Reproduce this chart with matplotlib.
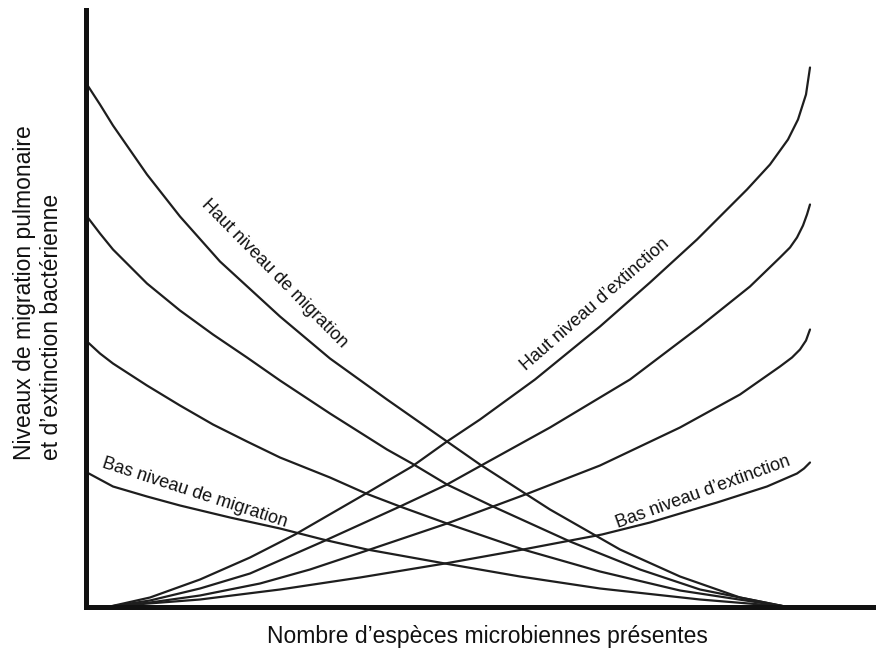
import matplotlib
matplotlib.use("Agg")
import matplotlib.pyplot as plt

plt.rcParams['font.family'] = ['Liberation Sans', 'DejaVu Sans']

# migration curves (descending), x = species count, y = rate
mig_high_x = [0, 13, 26, 60, 93, 133, 193, 243, 300, 360, 393, 463, 533, 593, 653, 698]
mig_high_y = [522, 502, 481, 432, 390, 345, 290, 248, 207, 165, 142, 97, 57, 30, 9, 0]
mig_2_x = [0, 13, 26, 60, 93, 126, 160, 193, 243, 300, 325, 360, 406, 483, 553, 613, 698]
mig_2_y = [390, 373, 357, 323, 296, 272, 249, 226, 193, 157, 143, 122, 100, 65, 37, 17, 0]
mig_3_x = [0, 13, 26, 60, 93, 126, 160, 193, 243, 279, 313, 360, 436, 513, 593, 698]
mig_3_y = [265, 253, 243, 221, 201, 182, 165, 149, 129, 113, 100, 83, 57, 35, 16, 0]
mig_low_x = [0, 13, 26, 60, 93, 143, 193, 236, 280, 358, 433, 513, 613, 698]
mig_low_y = [134, 127, 120, 110, 101, 89, 78, 67, 57, 43, 30, 18, 7, 0]

# extinction curves (ascending)
ext_high_x = [23, 63, 113, 163, 208, 279, 325, 360, 393, 448, 513, 563, 610, 660,
              683, 701, 711, 719, 723]
ext_high_y = [0, 9, 27, 49, 72, 113, 140, 165, 187, 227, 280, 324, 367, 417,
              442, 467, 487, 512, 539]
ext_2_x = [23, 63, 113, 163, 236, 313, 360, 396, 463, 543, 613, 663, 693, 703, 710, 716, 720, 723]
ext_2_y = [0, 6, 18, 33, 65, 100, 122, 142, 179, 227, 280, 320, 349, 359, 369, 381, 392, 402]
ext_3_x = [23, 63, 113, 173, 223, 280, 360, 406, 441, 513, 593, 653, 693, 705, 713, 719, 723]
ext_3_y = [0, 4, 11, 23, 37, 56, 83, 100, 113, 141, 179, 212, 240, 249, 257, 266, 277]
ext_low_x = [23, 113, 193, 273, 358, 436, 515, 563, 630, 680, 710, 717, 723]
ext_low_y = [0, 7, 17, 29, 43, 57, 72, 84, 104, 120, 133, 138, 144]

fig = plt.figure(figsize=(8.76, 6.5), dpi=100)
ax = fig.add_axes([85.5 / 876, 43.5 / 650, 790.5 / 876, 596.5 / 650])

line_kw = dict(color='#1e1e1e', lw=1.6, solid_capstyle='round', solid_joinstyle='round')
for xs, ys in [(mig_high_x, mig_high_y), (mig_2_x, mig_2_y), (mig_3_x, mig_3_y),
               (mig_low_x, mig_low_y), (ext_high_x, ext_high_y), (ext_2_x, ext_2_y),
               (ext_3_x, ext_3_y), (ext_low_x, ext_low_y)]:
    ax.plot(xs, ys, **line_kw)

ax.set_xlim(-1.5, 789)
ax.set_ylim(0, 596.5)
ax.set_xticks([])
ax.set_yticks([])
for side in ['top', 'right']:
    ax.spines[side].set_visible(False)
for side in ['left', 'bottom']:
    ax.spines[side].set_linewidth(3.6)
    ax.spines[side].set_color('#111111')

lab_kw = dict(fontsize=13, ha='center', va='center', rotation_mode='anchor', color='#111111')
ax.text(187, 333, 'Haut niveau de migration', rotation=-45.5, **lab_kw)
ax.text(108, 114, 'Bas niveau de migration', rotation=-18, **lab_kw)
ax.text(508, 302, 'Haut niveau d’extinction', rotation=41.2, **lab_kw)
ax.text(616, 114, 'Bas niveau d’extinction', rotation=20, **lab_kw)

fig.text(487 / 876, 1 - 637 / 650, 'Nombre d’espèces microbiennes présentes',
         fontsize=16.5, ha='center', va='center', color='#111111')
fig.text(38 / 876, 1 - 460 / 650,
         'Niveaux de migration pulmonaire\net d’extinction bactérienne',
         fontsize=16.5, rotation=90, ha='center', va='bottom',
         multialignment='left', linespacing=1.25, color='#111111')

fig.savefig('out.png', dpi=100)
